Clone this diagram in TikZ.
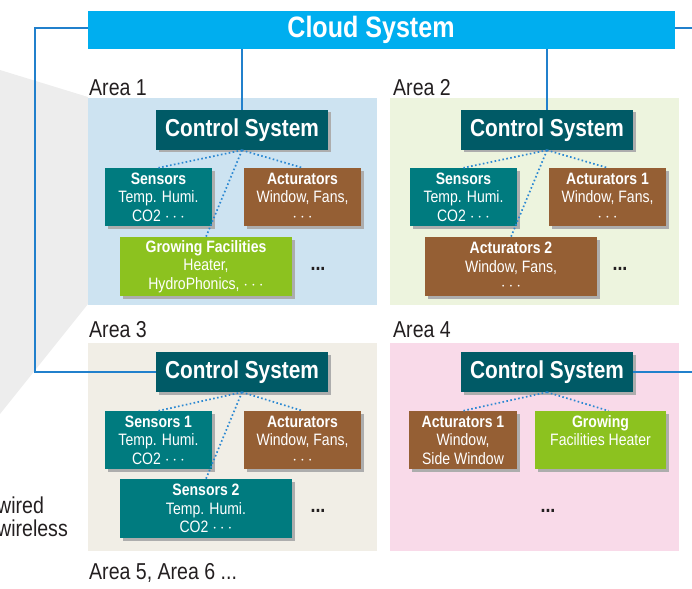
\documentclass[tikz,border=0pt]{standalone}
\usepackage{fontspec}
\setmainfont{Liberation Sans}[FakeStretch=0.85]
\usetikzlibrary{shadows}
\definecolor{cloudc}{HTML}{00AEEF}
\definecolor{linec}{HTML}{2180CC}
\definecolor{dotc}{HTML}{2B88D2}
\definecolor{csc}{HTML}{005A66}
\definecolor{sensc}{HTML}{007B7F}
\definecolor{actc}{HTML}{955F34}
\definecolor{growc}{HTML}{8CC21F}
\definecolor{bgA}{HTML}{CDE3F1}
\definecolor{bgB}{HTML}{EDF4DE}
\definecolor{bgC}{HTML}{F1EEE6}
\definecolor{bgD}{HTML}{F9DAE9}
\definecolor{polyc}{HTML}{EDEDED}
\definecolor{txt}{HTML}{231F20}
\begin{document}
\begin{tikzpicture}[x=1pt,y=-1pt,
  shadstyle/.style={drop shadow={shadow xshift=2.5pt,shadow yshift=-2.5pt,fill=black!32,opacity=1}},
  basebox/.style={shadstyle,inner sep=0pt,text=white,align=center,font=\fontsize{16.5}{18.5}\selectfont},
  sensbox/.style={basebox,fill=sensc},
  actbox/.style={basebox,fill=actc},
  growbox/.style={basebox,fill=growc},
  csbox/.style={shadstyle,fill=csc,text=white,inner sep=0pt,minimum width=172pt,minimum height=40pt,font=\fontsize{24.5}{26}\selectfont\bfseries},
  arealab/.style={anchor=base west,inner sep=0pt,text=txt,font=\fontsize{23}{25}\selectfont},
  moretxt/.style={inner sep=0pt,text=txt,font=\fontsize{21}{22}\selectfont\bfseries},
  wireline/.style={linec,line width=1.6pt},
  dotline/.style={dotc,line width=1.7pt,dash pattern=on 1.6pt off 2.4pt}
]
\useasboundingbox (0,0) rectangle (692,588);
% background shape
\fill[polyc] (0,70) -- (88,97) -- (88,304) -- (0,414) -- cycle;
% areas
\fill[bgA] (88,98) rectangle (377,305);
\fill[bgB] (390,98) rectangle (679,305);
\fill[bgC] (88,343) rectangle (377,551);
\fill[bgD] (390,343) rectangle (679,551);
\node[arealab] (l1) at (89,96) {Area 1};
\node[arealab] (l2) at (393,96) {Area 2};
\node[arealab] (l3) at (89,337) {Area 3};
\node[arealab] (l4) at (393,337) {Area 4};
\node[arealab] (l5) at (89,579) {Area 5, Area 6 ...};
\node[arealab] (w1) at (-3,513) {wired};
\node[arealab] (w2) at (-3,536) {wireless};
% cloud
\node[fill=cloudc,inner sep=0pt,minimum width=587pt,minimum height=38pt] (cloud) at (381.5,30) {};
\node[text=white,inner sep=0pt,font=\fontsize{29.5}{30}\selectfont\bfseries] (cloudtxt) at (371,30) {Cloud System};
% control systems
\node[csbox] (cs1) at (242,130) {Control System};
\node[csbox] (cs2) at (547,130) {Control System};
\node[csbox] (cs3) at (242,372) {Control System};
\node[csbox] (cs4) at (547,372) {Control System};
% wires
\coordinate (lc) at (35,0);
\coordinate (rc) at (692,0);
\draw[wireline] (cloud.south -| cs1.north) -- (cs1.north);
\draw[wireline] (cloud.south -| cs2.north) -- (cs2.north);
\draw[wireline] ([yshift=2pt]cloud.west) -- ([yshift=2pt]cloud.west -| lc) |- (cs3.west);
\draw[wireline] ([yshift=2pt]cloud.east) -- ([yshift=2pt]cloud.east -| rc);
\draw[wireline] (cs4.east) -- (cs4.east -| rc);
% Area 1
\node[sensbox,minimum width=107pt,minimum height=58pt] (s1) at (158.5,197) {\textbf{Sensors}\\Temp. Humi.\\CO2 $\cdots$};
\node[actbox,minimum width=117pt,minimum height=58pt] (a1) at (302.5,197) {\textbf{Acturators}\\Window, Fans,\\$\cdots$};
\node[growbox,minimum width=172pt,minimum height=59pt] (g1) at (206,266.5) {\textbf{Growing Facilities}\\Heater,\\HydroPhonics, $\cdots$};
\node[moretxt] (m1) at (318,269) {...};
\draw[dotline] (cs1.south) -- (s1.north);
\draw[dotline] (cs1.south) -- (a1.north);
\draw[dotline] (cs1.south) -- (g1.north);
% Area 2
\node[sensbox,minimum width=107pt,minimum height=58pt] (s2) at (463.5,197) {\textbf{Sensors}\\Temp. Humi.\\CO2 $\cdots$};
\node[actbox,minimum width=117pt,minimum height=58pt] (a21) at (607.5,197) {\textbf{Acturators 1}\\Window, Fans,\\$\cdots$};
\node[actbox,minimum width=172pt,minimum height=59pt] (a22) at (511,266.5) {\textbf{Acturators 2}\\Window, Fans,\\$\cdots$};
\node[moretxt] (m2) at (620,269) {...};
\draw[dotline] (cs2.south) -- (s2.north);
\draw[dotline] (cs2.south) -- (a21.north);
\draw[dotline] (cs2.south) -- (a22.north);
% Area 3
\node[sensbox,minimum width=107pt,minimum height=58pt] (s31) at (158.5,440) {\textbf{Sensors 1}\\Temp. Humi.\\CO2 $\cdots$};
\node[actbox,minimum width=117pt,minimum height=58pt] (a3) at (302.5,440) {\textbf{Acturators}\\Window, Fans,\\$\cdots$};
\node[sensbox,minimum width=172pt,minimum height=59pt] (s32) at (206,508.5) {\textbf{Sensors 2}\\Temp. Humi.\\CO2 $\cdots$};
\node[moretxt] (m3) at (318,511) {...};
\draw[dotline] (cs3.south) -- (s31.north);
\draw[dotline] (cs3.south) -- (a3.north);
\draw[dotline] (cs3.south) -- (s32.north);
% Area 4
\node[actbox,minimum width=108pt,minimum height=58pt] (a4) at (463,440) {\textbf{Acturators 1}\\Window,\\Side Window};
\node[growbox,minimum width=131pt,minimum height=58pt] (g4) at (600.5,440) {\textbf{Growing}\\Facilities Heater\\\mbox{}};
\node[moretxt] (m4) at (548,511) {...};
\draw[dotline] (cs4.south) -- (a4.north);
\draw[dotline] (cs4.south) -- ([xshift=8pt]g4.north);
\end{tikzpicture}
\end{document}
